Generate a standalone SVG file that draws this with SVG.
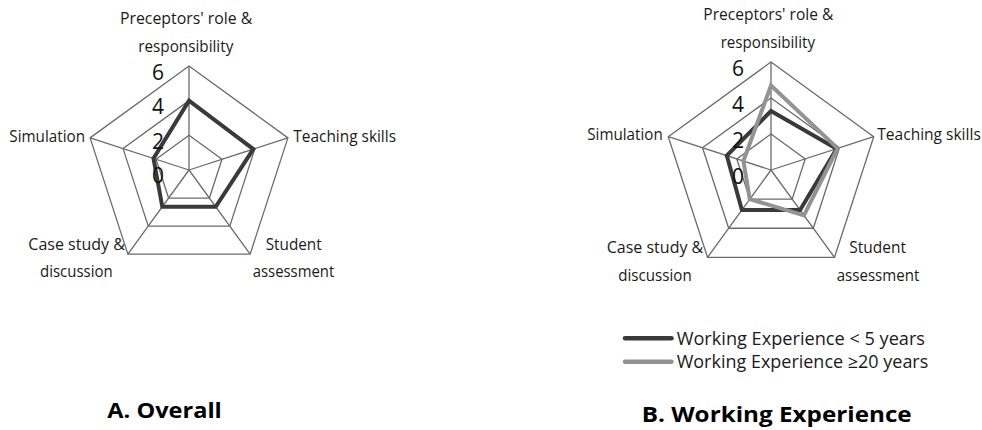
<svg xmlns="http://www.w3.org/2000/svg" width="982" height="430" viewBox="0 0 982 430">
<style>
.grid{fill:none;stroke:#6b6b6b;stroke-width:1.3}
.dark{fill:none;stroke:#3a3a3a;stroke-width:4;stroke-linejoin:miter}
.light{fill:none;stroke:#939393;stroke-width:4;stroke-linejoin:miter}
.lbl{font-family:"Open Sans","Noto Sans",sans-serif;font-size:15.5px;fill:#1a1a1a}
.tick{font-family:"Open Sans","Noto Sans",sans-serif;font-size:21px;fill:#111;text-anchor:end}
.leg{font-family:"Open Sans","Noto Sans",sans-serif;font-size:17.8px;fill:#1a1a1a}
.title{font-family:"Open Sans","Noto Sans",sans-serif;font-size:22px;font-weight:bold;fill:#000}
</style>
<rect width="982" height="430" fill="#fff"/>
<g id="chartA">
  <g id="gridA">
    <polygon class="grid" points="189,66 287.91,137.86 250.13,254.14 127.87,254.14 90.09,137.86"/>
    <polygon class="grid" points="189,100.67 254.94,148.58 229.75,226.09 148.25,226.09 123.06,148.58"/>
    <polygon class="grid" points="189,135.33 221.97,159.29 209.38,198.05 168.62,198.05 156.03,159.29"/>
    <path class="grid" d="M189,170V66M189,170L287.91,137.86M189,170L250.13,254.14M189,170L127.87,254.14M189,170L90.09,137.86"/>
  </g>
  <polygon id="seriesA" class="dark" points="189,100.7 253.3,149.1 215.7,206.8 162.3,206.8 153.5,158.5"/>
  <g id="ticksA">
    <text class="tick" x="164" y="79.5">6</text>
    <text class="tick" x="164" y="114">4</text>
    <text class="tick" x="164" y="148.5">2</text>
    <text class="tick" x="164" y="183">0</text>
  </g>
  <g id="labelsA">
    <text class="lbl" x="120" y="23.5" textLength="132.3" lengthAdjust="spacingAndGlyphs">Preceptors' role &amp;</text>
    <text class="lbl" x="138.3" y="51.5" textLength="95" lengthAdjust="spacingAndGlyphs">responsibility</text>
    <text class="lbl" x="9.3" y="141.5" textLength="75.7" lengthAdjust="spacingAndGlyphs">Simulation</text>
    <text class="lbl" x="293.3" y="141.5" textLength="102.7" lengthAdjust="spacingAndGlyphs">Teaching skills</text>
    <text class="lbl" x="265.7" y="249.5" textLength="56" lengthAdjust="spacingAndGlyphs">Student</text>
    <text class="lbl" x="252.7" y="277" textLength="81.6" lengthAdjust="spacingAndGlyphs">assessment</text>
    <text class="lbl" x="28.3" y="249.5" textLength="96.7" lengthAdjust="spacingAndGlyphs">Case study &amp;</text>
    <text class="lbl" x="40" y="277" textLength="72.7" lengthAdjust="spacingAndGlyphs">discussion</text>
  </g>
  <text id="titleA" class="title" x="107.3" y="417.5" textLength="114.5" lengthAdjust="spacingAndGlyphs">A. Overall</text>
</g>
<g id="chartB">
  <g id="gridB">
    <polygon class="grid" points="771,62 873.72,136.63 834.48,257.37 707.52,257.37 668.28,136.63"/>
    <polygon class="grid" points="771,98 839.48,147.75 813.32,228.25 728.68,228.25 702.52,147.75"/>
    <polygon class="grid" points="771,134 805.24,158.88 792.16,199.12 749.84,199.12 736.76,158.88"/>
    <path class="grid" d="M771,170V62M771,170L873.72,136.63M771,170L834.48,257.37M771,170L707.52,257.37M771,170L668.28,136.63"/>
  </g>
  <polygon id="seriesB1" class="dark" points="771,111 836.6,148.7 800.1,210 741.9,210 726.8,155.6"/>
  <polygon id="seriesB2" class="light" points="771,85.5 837.6,148.4 803.9,215.3 749.8,199.1 743.4,161"/>
  <g id="ticksB">
    <text class="tick" x="744" y="75.7">6</text>
    <text class="tick" x="744" y="111.7">4</text>
    <text class="tick" x="744" y="147.7">2</text>
    <text class="tick" x="744" y="183.7">0</text>
  </g>
  <g id="labelsB">
    <text class="lbl" x="703.3" y="20" textLength="130" lengthAdjust="spacingAndGlyphs">Preceptors' role &amp;</text>
    <text class="lbl" x="720.7" y="48" textLength="94.3" lengthAdjust="spacingAndGlyphs">responsibility</text>
    <text class="lbl" x="587.3" y="140" textLength="75.4" lengthAdjust="spacingAndGlyphs">Simulation</text>
    <text class="lbl" x="877.3" y="140" textLength="103.5" lengthAdjust="spacingAndGlyphs">Teaching skills</text>
    <text class="lbl" x="849.3" y="253" textLength="56.7" lengthAdjust="spacingAndGlyphs">Student</text>
    <text class="lbl" x="836.7" y="281" textLength="82.6" lengthAdjust="spacingAndGlyphs">assessment</text>
    <text class="lbl" x="606.7" y="253" textLength="96.6" lengthAdjust="spacingAndGlyphs">Case study &amp;</text>
    <text class="lbl" x="618.3" y="281" textLength="73.4" lengthAdjust="spacingAndGlyphs">discussion</text>
  </g>
  <g id="legend">
    <line x1="625" y1="338.3" x2="671.5" y2="338.3" stroke="#3a3a3a" stroke-width="4.5" stroke-linecap="round"/>
    <text class="leg" x="676.7" y="344.5" textLength="248.3" lengthAdjust="spacingAndGlyphs">Working Experience &lt; 5 years</text>
    <line x1="625" y1="361.7" x2="671.5" y2="361.7" stroke="#939393" stroke-width="4.5" stroke-linecap="round"/>
    <text class="leg" x="676.7" y="368" textLength="251.6" lengthAdjust="spacingAndGlyphs">Working Experience ≥20 years</text>
  </g>
  <text id="titleB" class="title" x="641.7" y="421.7" textLength="270" lengthAdjust="spacingAndGlyphs">B. Working Experience</text>
</g>
</svg>
